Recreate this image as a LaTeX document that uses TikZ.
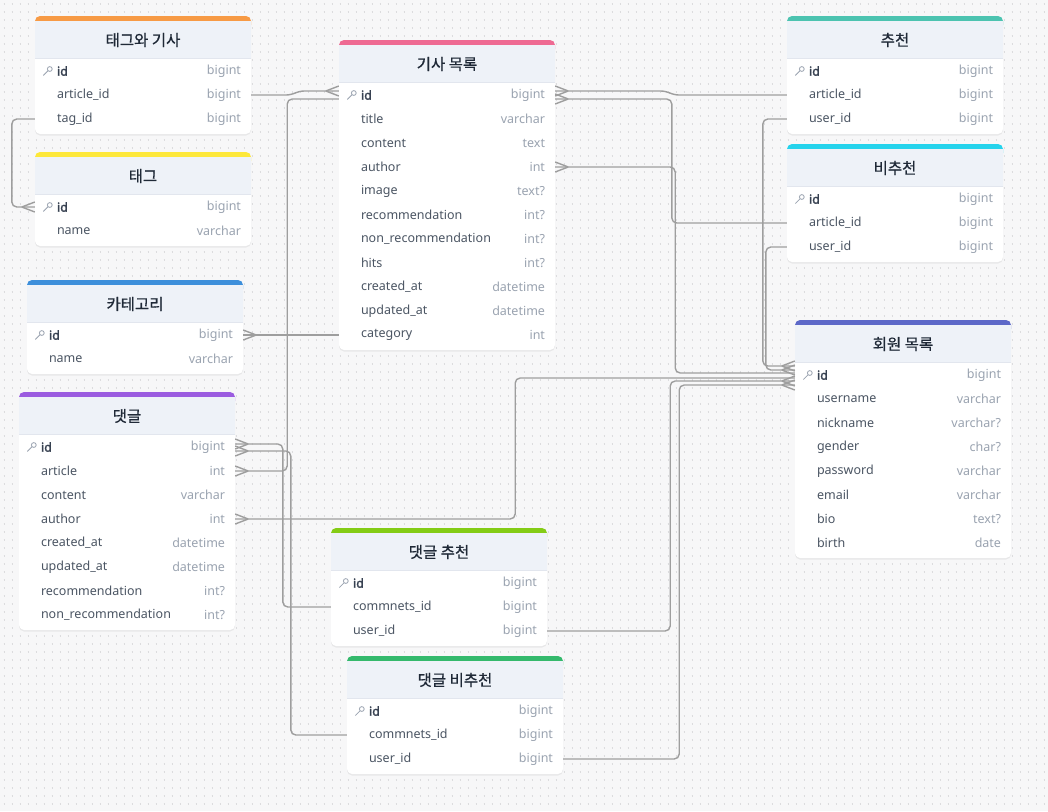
\documentclass[tikz,border=0pt]{standalone}
\usepackage{fontspec}
\setmainfont{Noto Sans}
\newfontfamily\krfont{Noto Sans CJK KR}[FakeBold=0.6]
\newfontfamily\idfont{Noto Sans}[FakeBold=2]
\usetikzlibrary{calc,shadows}

\definecolor{bgcol}{HTML}{F7F7F8}
\definecolor{dotcol}{HTML}{DCDCDE}
\definecolor{headfill}{HTML}{EEF2F8}
\definecolor{headline}{HTML}{E2E6EE}
\definecolor{titlecol}{HTML}{1F2937}
\definecolor{fieldcol}{HTML}{4B5563}
\definecolor{idcol}{HTML}{374151}
\definecolor{typecol}{HTML}{9AA3B0}
\definecolor{linkcol}{HTML}{9E9E9E}
\definecolor{cOrange}{HTML}{F79A45}
\definecolor{cYellow}{HTML}{FDE83A}
\definecolor{cBlue}{HTML}{3D8FDB}
\definecolor{cPurple}{HTML}{9B5CE0}
\definecolor{cPink}{HTML}{EE6A93}
\definecolor{cTeal}{HTML}{4CC3B0}
\definecolor{cCyan}{HTML}{25D3EC}
\definecolor{cIndigo}{HTML}{5C68C8}
\definecolor{cLime}{HTML}{84CC16}
\definecolor{cGreen}{HTML}{34B96C}

% table: #1 name, #2 left, #3 top, #4 colour, #5 title, #6 rows field/type
\newcommand{\erdtable}[6]{%
  \foreach \fname/\ftype [count=\rowno] in {#6} {\xdef\rowtotal{\rowno}}%
  \pgfmathsetmacro\tabbot{#3+46+24*\rowtotal}%
  \fill[white, rounded corners=5pt, drop shadow={shadow xshift=0pt, shadow yshift=-1.5pt, opacity=.12}]
    (#2,#3) rectangle ({#2+216},\tabbot);
  \fill[#4, rounded corners=5pt] (#2,#3) rectangle ({#2+216},{#3+14});
  \fill[headfill] (#2,{#3+5}) rectangle ({#2+216},{#3+42});
  \draw[headline] (#2,{#3+42.5}) -- ({#2+216},{#3+42.5});
  \node[tabtitle] (#1) at ({#2+108},{#3+24}) {#5};
  \foreach \fname/\ftype [count=\rowno] in {#6} {
    \node[tabrow] (#1-\rowno) at ({#2+108},{#3+31+24*\rowno}) {};
    \node[fieldtxt] (#1-\rowno-f) at ($(#1-\rowno.west)+(22,0)$)
      {\ifnum\rowno=1\relax\idfont\color{idcol}\fi\fname};
    \node[typetxt] (#1-\rowno-t) at ($(#1-\rowno.east)+(-10,0)$) {\ftype};
  }
  \draw[keyline] ($(#1-1.west)+(15,-2)$) circle[radius=2.4pt]
    ($(#1-1.west)+(13.3,-0.3)$) -- ($(#1-1.west)+(8.5,4.5)$);
}

% crow foot: #1 end point, #2 side (1 east, -1 west)
\newcommand{\crowfoot}[2]{%
  \draw[link, rounded corners=0pt] ($(#1)+(#2*13,0)$) -- ($(#1)+(0,-5)$)
    ($(#1)+(#2*13,0)$) -- ($(#1)+(0,5)$);
}

\begin{document}
\begin{tikzpicture}[x=1pt,y=-1pt]
  \tikzset{
    tabtitle/.style={
      inner sep=0pt,
      text=titlecol,
      font=\krfont\fontsize{15.5}{18}\selectfont
    },
    tabrow/.style={
      rectangle,
      inner sep=0pt,
      minimum width=216pt,
      minimum height=24pt
    },
    fieldtxt/.style={
      anchor=west,
      inner sep=0pt,
      text=fieldcol,
      font=\fontsize{12.5}{15}\selectfont
    },
    typetxt/.style={
      anchor=east,
      inner sep=0pt,
      text=typecol,
      font=\fontsize{12.5}{15}\selectfont
    },
    keyline/.style={draw=typecol, line width=0.8pt},
    link/.style={
      draw=linkcol,
      line width=1.4pt,
      rounded corners=5pt
    },
    dotgrid/.style={
      draw=dotcol,
      line width=1.1pt,
      dash pattern=on 1.1pt off 6.9pt
    }
  }

  \useasboundingbox (0,0) rectangle (1048,811);
  \fill[bgcol] (0,0) rectangle (1048,811);
  \foreach \yy in {4,12,...,811}
    \draw[dotgrid] (3.5,\yy) -- (1048,\yy);

  \erdtable{tagart}{35}{16}{cOrange}{태그와 기사}
    {id/bigint, article\_id/bigint, tag\_id/bigint}
  \erdtable{tag}{35}{152}{cYellow}{태그}
    {id/bigint, name/varchar}
  \erdtable{cat}{27}{280}{cBlue}{카테고리}
    {id/bigint, name/varchar}
  \erdtable{cmt}{19}{392}{cPurple}{댓글}
    {id/bigint, article/int, content/varchar, author/int,
     created\_at/datetime, updated\_at/datetime,
     recommendation/int?, non\_recommendation/int?}
  \erdtable{art}{339}{40}{cPink}{기사 목록}
    {id/bigint, title/varchar, content/text, author/int, image/text?,
     recommendation/int?, non\_recommendation/int?, hits/int?,
     created\_at/datetime, updated\_at/datetime, category/int}
  \erdtable{rec}{787}{16}{cTeal}{추천}
    {id/bigint, article\_id/bigint, user\_id/bigint}
  \erdtable{nrec}{787}{144}{cCyan}{비추천}
    {id/bigint, article\_id/bigint, user\_id/bigint}
  \erdtable{usr}{795}{320}{cIndigo}{회원 목록}
    {id/bigint, username/varchar, nickname/varchar?, gender/char?,
     password/varchar, email/varchar, bio/text?, birth/date}
  \erdtable{crec}{331}{528}{cLime}{댓글 추천}
    {id/bigint, commnets\_id/bigint, user\_id/bigint}
  \erdtable{cnrec}{347}{656}{cGreen}{댓글 비추천}
    {id/bigint, commnets\_id/bigint, user\_id/bigint}

  % shared end points
  \coordinate (art-l1) at ($(art-1.west)+(0,-4)$);
  \coordinate (art-l2) at ($(art-1.west)+(0,4)$);
  \coordinate (art-r1) at ($(art-1.east)+(0,-4)$);
  \coordinate (art-r2) at ($(art-1.east)+(0,4)$);
  \coordinate (cmt-r1) at ($(cmt-1.east)+(0,-3)$);
  \coordinate (cmt-r2) at ($(cmt-1.east)+(0,4)$);
  \coordinate (usr-l1) at ($(usr-1.west)+(0,-9)$);
  \coordinate (usr-l2) at ($(usr-1.west)+(0,-5)$);
  \coordinate (usr-l3) at ($(usr-1.west)+(0,-2)$);
  \coordinate (usr-l4) at ($(usr-1.west)+(0,3)$);
  \coordinate (usr-l5) at ($(usr-1.west)+(0,6)$);
  \coordinate (usr-l6) at ($(usr-1.west)+(0,10)$);

  % relations
  \draw[link] (tagart-2.east) -- ++(40,0) -- ++(8,-4) -- (art-l1);
  \draw[link] (tagart-3.west) -- ++(-23,0) |- (tag-1.west);
  \draw[link] (art-11.west) -- (cat-1.east);
  \draw[link] (cmt-2.east) -- ++(52,0) |- (art-l2);
  \draw[link] (crec-2.west) -- ++(-48,0) |- (cmt-r1);
  \draw[link] (cnrec-2.west) -- ++(-56,0) |- (cmt-r2);
  \draw[link] (rec-2.west) -- ++(-113,0) -- ++(-8,-4) -- (art-r1);
  \draw[link] (nrec-2.west) -- ++(-115,0) |- (art-r2);
  \draw[link] (art-4.east) -- ++(120,0) |- (usr-l3);
  \draw[link] (rec-3.west) -- ++(-24,0) |- (usr-l1);
  \draw[link] (nrec-3.west) -- ++(-21,0) |- (usr-l2);
  \draw[link] (cmt-4.east) -- ++(280,0) |- (usr-l4);
  \draw[link] (crec-3.east) -- ++(123,0) |- (usr-l5);
  \draw[link] (cnrec-3.east) -- ++(116,0) |- (usr-l6);

  \crowfoot{art-l1}{-1}
  \crowfoot{tag-1.west}{-1}
  \crowfoot{cat-1.east}{1}
  \crowfoot{cmt-2.east}{1}
  \crowfoot{cmt-r1}{1}
  \crowfoot{cmt-r2}{1}
  \crowfoot{art-r1}{1}
  \crowfoot{art-r2}{1}
  \crowfoot{art-4.east}{1}
  \crowfoot{cmt-4.east}{1}
  \crowfoot{usr-l1}{-1}
  \crowfoot{usr-l2}{-1}
  \crowfoot{usr-l5}{-1}
  \crowfoot{usr-l6}{-1}
\end{tikzpicture}
\end{document}
